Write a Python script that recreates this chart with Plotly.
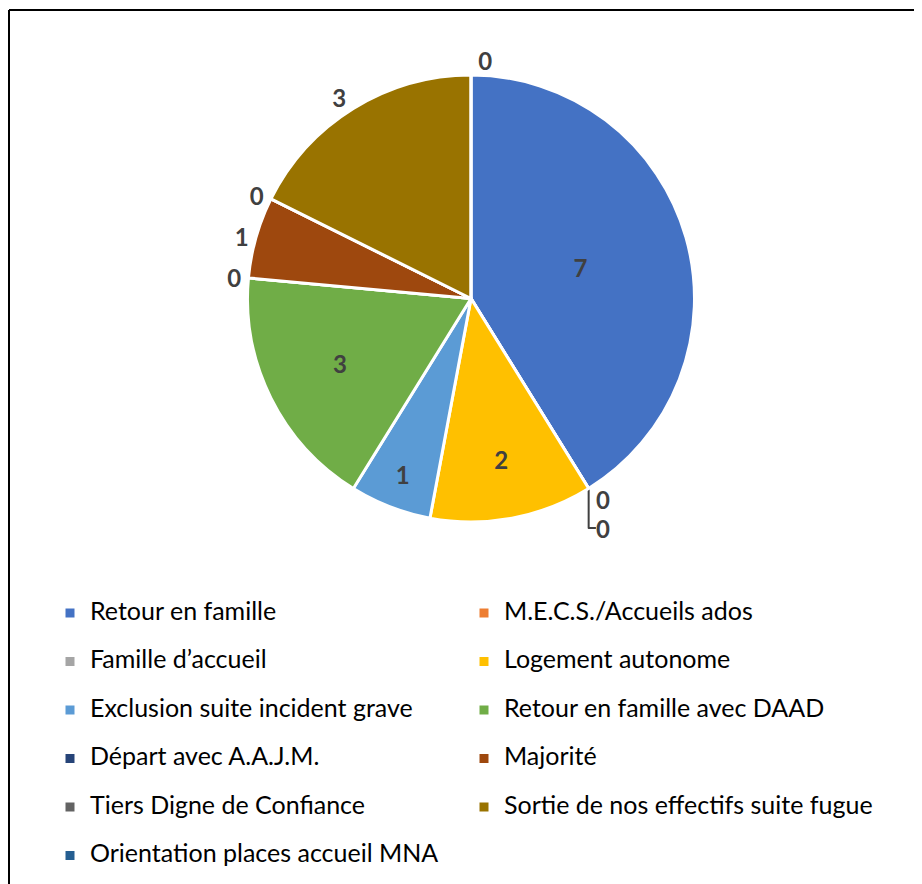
import plotly.graph_objects as go

W, H = 922, 884

# categories, in slice order (clockwise from 12 o'clock)
labels = [
    "Retour en famille",
    "M.E.C.S./Accueils ados",
    "Famille d\u2019accueil",
    "Logement autonome",
    "Exclusion suite incident grave",
    "Retour en famille avec DAAD",
    "D\u00e9part avec A.A.J.M.",
    "Majorit\u00e9",
    "Tiers Digne de Confiance",
    "Sortie de nos effectifs suite fugue",
    "Orientation places accueil MNA",
]
values = [7, 0, 0, 2, 1, 3, 0, 1, 0, 3, 0]
colors = ["#4472C4", "#ED7D31", "#A5A5A5", "#FFC000", "#5B9BD5", "#70AD47",
          "#264478", "#9E480E", "#636363", "#997300", "#255E91"]
text_pos = ["inside", "outside", "outside", "inside", "inside", "inside",
            "outside", "outside", "outside", "outside", "outside"]

# pie box in figure pixels (page puts the figure 8px in from the corner)
cx, top, half = 463, 67, 223.5

# legend rows in the original are very airy: a blank second line gives the height
# (not on the last one, so the legend does not run off the bottom)
legend_text = ['<span style="font-size:25px">%s</span><br> ' % s for s in labels[:-1]]
legend_text.append('<span style="font-size:25px">%s</span>' % labels[-1])

fig = go.Figure(go.Pie(
    labels=legend_text,
    values=values,
    customdata=labels,
    sort=False,
    direction="clockwise",
    rotation=0,
    marker=dict(colors=colors, line=dict(color="white", width=3)),
    texttemplate="%{value}",
    textposition=text_pos,
    textfont=dict(family="Lato", size=24, color="#404040", weight="bold"),
    insidetextorientation="horizontal",
    automargin=False,
    hovertemplate="%{customdata}: %{value}<extra></extra>",
    domain=dict(x=[(cx - half) / W, (cx + half) / W],
                y=[1 - (top + 2 * half) / H, 1 - top / H]),
))

fig.update_layout(
    width=W, height=H,
    margin=dict(l=0, r=0, t=0, b=0),
    paper_bgcolor="white",
    showlegend=True,
    legend=dict(
        orientation="h",
        x=42 / W, xanchor="left",
        y=1 - 587 / H, yanchor="top",
        entrywidth=369, entrywidthmode="pixels",
        font=dict(family="Lato", size=17.5, color="#000000"),
        itemwidth=30,
        valign="top",
        traceorder="normal",
    ),
    shapes=[
        dict(type="line", xref="paper", yref="paper", x0=1 / W, x1=1, y0=1 - 2 / H, y1=1 - 2 / H,
             line=dict(color="black", width=2)),
        dict(type="line", xref="paper", yref="paper", x0=1 / W, x1=1 / W, y0=0, y1=1 - 2 / H,
             line=dict(color="black", width=2)),
    ],
)

fig.write_html("out.html")
